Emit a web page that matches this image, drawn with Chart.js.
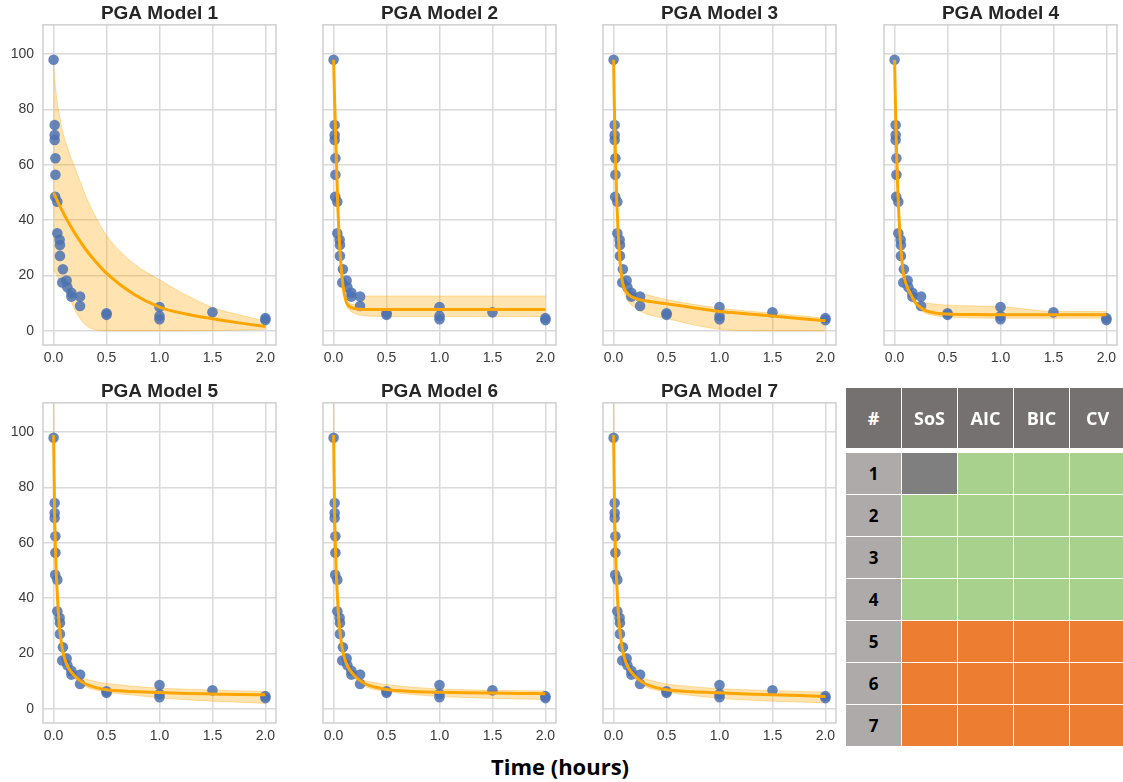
<!DOCTYPE html>
<html>
<head>
<meta charset="utf-8">
<script src="https://cdn.jsdelivr.net/npm/chart.js@4.4.0/dist/chart.umd.min.js"></script>
<style>
  html, body { margin: 0; padding: 0; background: #fff; overflow: hidden; }
  body { width: 1123px; height: 782px; position: relative; }
  canvas { position: absolute; }
  .cell { position: absolute; display: flex; align-items: center; justify-content: center;
          font-family: 'Open Sans', sans-serif; font-weight: 700; }
  #xlabel { position: absolute; left: 410px; width: 300px; top: 751px; line-height: 30px;
            text-align: center; font-family: 'Open Sans', sans-serif; font-weight: 700;
            font-size: 22px; color: #000; }
</style>
</head>
<body>
<div id="xlabel">Time (hours)</div>
<script>
// observed PGA values (same in every panel)
const obsTime = [0, 0.01, 0.01, 0.01, 0.017, 0.017, 0.015, 0.035, 0.035, 0.057, 0.06, 0.06, 0.088, 0.082,
                 0.123, 0.13, 0.168, 0.168, 0.25, 0.25, 0.5, 0.5, 1, 1, 1, 1.5, 2, 2];
const obsPga = [98, 74.4, 70.8, 69, 62.4, 56.4, 48.5, 46.7, 35.3, 32.9, 31, 27.1, 22.3, 17.5,
                18.2, 15.8, 13.8, 12.4, 12.4, 9, 6.4, 5.8, 8.6, 5.4, 4.2, 6.7, 4.6, 3.9];

const fitTime = [0, 0.005, 0.01, 0.02, 0.03, 0.04, 0.05, 0.06, 0.08, 0.1, 0.125, 0.15, 0.2, 0.25, 0.3,
                 0.4, 0.5, 0.75, 1, 1.25, 1.5, 1.75, 2];

const fit1 = [50, 49.6, 49.1, 48.3, 47.4, 46.6, 45.8, 45, 43.5, 42, 40.2, 38.5, 35.3, 32.4, 29.6, 24.9, 20.8, 13.4, 8.6, 6.1, 4.4, 2.9, 1.6];
const hi1  = [97, 94, 91, 87, 84, 81, 79, 77, 73, 70, 67, 64, 59, 54, 49, 41, 34.5, 24.5, 18.5, 13, 8.5, 5.8, 3.6];
const lo1  = [22, 21.7, 21.4, 20.8, 20.2, 19.5, 18.9, 18.3, 17.1, 16, 14.8, 12.5, 7.6, 4.5, 2.2, 0.3, 0, 0, 0, 0, 0.1, 0.3, 0.6];

const fit2 = [98, 90, 83, 70, 57, 45, 36, 29, 19.5, 13.6, 10, 8.8, 8.1, 7.8, 7.7, 7.7, 7.7, 7.7, 7.7, 7.7, 7.7, 7.7, 7.7];
const hi2  = [98, 91, 84.5, 72, 59, 47, 38, 30.5, 20.7, 14.6, 11, 10, 9.5, 10, 12.6, 12.6, 12.6, 12.6, 12.6, 12.6, 12.6, 12.6, 12.6];
const lo2  = [98, 89, 81.5, 68, 55, 43, 34, 27.5, 18.3, 12.6, 8.8, 7.5, 6.3, 5.7, 5.4, 5.3, 5.2, 5.2, 5.2, 5.2, 5.2, 5.2, 5.2];

const fit3 = [98, 86, 76, 60, 47, 38, 31, 25, 18.5, 15.5, 13.8, 12.8, 11.8, 11.2, 10.9, 10.3, 9.8, 8.4, 7, 6.2, 5.4, 4.5, 3.7];
const hi3  = [98, 87, 77, 61, 48, 39, 32, 26, 19.7, 17, 15.5, 14.5, 13.8, 13.6, 13.2, 12.2, 11.3, 9.6, 8.2, 7.2, 6.4, 5.5, 4.6];
const lo3  = [98, 85, 75, 59, 46, 37, 30, 24, 17.3, 14, 11.5, 10, 8.5, 7.2, 6.2, 5.2, 4.5, 2.2, 0.6, 0.1, 0, 0, 0];

const fit4 = [98, 88, 78, 63, 51, 42, 35, 29.5, 21.5, 18, 15.3, 13.4, 10, 8.3, 7.2, 6.4, 6.1, 5.9, 5.8, 5.8, 5.8, 5.8, 5.8];
const hi4  = [98, 88.6, 78.6, 63.6, 51.6, 42.6, 35.6, 30.1, 22.2, 18.8, 16.2, 14.5, 10.8, 10.2, 10, 9.6, 9.3, 9, 8.8, 7.8, 7, 7, 7];
const lo4  = [98, 87.4, 77.4, 62.4, 50.4, 41.4, 34.4, 28.9, 20.8, 17.2, 14.4, 12.3, 9.2, 7.4, 6.3, 5.4, 5, 4.7, 4.6, 4.6, 4.6, 4.6, 4.6];

const fit5 = [99, 84, 70, 55, 45, 38, 32, 28, 22.3, 18.8, 16, 14.2, 11.9, 10.2, 9, 7.7, 6.9, 6.3, 5.9, 5.6, 5.4, 5.2, 5.1];
const hi5  = [170, 88, 72.5, 57, 46.7, 39.5, 33.3, 29.2, 23.4, 19.9, 17.1, 15.3, 13, 11.5, 10.8, 9.8, 9.2, 8.2, 7.5, 7.1, 6.8, 6.5, 6.3];
const lo5  = [97, 81, 67.5, 53, 43.3, 36.5, 30.7, 26.8, 21.2, 17.7, 14.9, 13.1, 10.8, 9.4, 8, 6.8, 6, 5, 4, 3.3, 2.8, 2.4, 2];

const fit6 = [99, 84, 70, 55, 45, 38, 32, 28, 22.3, 18.8, 16, 14.2, 11.9, 10.2, 9, 7.8, 7, 6.3, 6, 5.8, 5.7, 5.6, 5.5];
const hi6  = [170, 88, 72.5, 57, 46.7, 39.5, 33.3, 29.2, 23.4, 19.9, 17.1, 15.2, 12.8, 11.2, 10.2, 9.4, 8.8, 7.8, 7.2, 6.9, 6.7, 6.6, 6.5];
const lo6  = [97, 81, 67.5, 53, 43.3, 36.5, 30.7, 26.8, 21.2, 17.7, 14.9, 13.2, 11, 9.4, 8.1, 6.9, 6.2, 5.2, 4.5, 4.1, 3.8, 3.6, 3.4];

const fit7 = [99, 84, 70, 55, 45, 38, 32, 28, 22.3, 18.8, 16, 14.2, 11.9, 10.2, 9, 7.7, 6.9, 6.2, 5.8, 5.4, 5.1, 4.8, 4.5];
const hi7  = [170, 88, 72.5, 57, 46.7, 39.5, 33.3, 29.2, 23.4, 19.9, 17.1, 15.3, 13, 11.5, 10.8, 9.8, 9, 8, 7.3, 6.9, 6.6, 6.3, 6.1];
const lo7  = [97, 81, 67.5, 53, 43.3, 36.5, 30.7, 26.8, 21.2, 17.7, 14.9, 13.1, 10.8, 9.4, 8, 6.8, 6, 4.8, 3.8, 3.2, 2.8, 2.5, 2.2];

const modelTitles = ['PGA Model 1', 'PGA Model 2', 'PGA Model 3', 'PGA Model 4', 'PGA Model 5', 'PGA Model 6', 'PGA Model 7'];
const xTicks = [0, 0.5, 1, 1.5, 2];
const yTicks = [0, 20, 40, 60, 80, 100];

// criteria table
const tableHeader = ['#', 'SoS', 'AIC', 'BIC', 'CV'];
const tableRows = [1, 2, 3, 4, 5, 6, 7];
const tableStatus = [
  ['na', 'ok', 'ok', 'ok'],
  ['ok', 'ok', 'ok', 'ok'],
  ['ok', 'ok', 'ok', 'ok'],
  ['ok', 'ok', 'ok', 'ok'],
  ['bad', 'bad', 'bad', 'bad'],
  ['bad', 'bad', 'bad', 'bad'],
  ['bad', 'bad', 'bad', 'bad']
];

const fits = [fit1, fit2, fit3, fit4, fit5, fit6, fit7];
const his = [hi1, hi2, hi3, hi4, hi5, hi6, hi7];
const los = [lo1, lo2, lo3, lo4, lo5, lo6, lo7];

// layout
const plotLeft = [43, 323, 603, 884, 43, 323, 603];
const rowTop = [0, 0, 0, 0, 378, 378, 378];
const plotW = 233, axisW = 43, padR = 14, canvasH = 373;

const toXY = (xs, ys) => xs.map((x, i) => ({ x: x, y: ys[i] }));

// light grey box round the plot area (seaborn whitegrid look)
const frame = {
  id: 'frame',
  afterDraw(chart) {
    const a = chart.chartArea, ctx = chart.ctx;
    ctx.save();
    ctx.strokeStyle = '#cfcfcf';
    ctx.lineWidth = 1.5;
    ctx.strokeRect(a.left, a.top, a.right - a.left, a.bottom - a.top);
    ctx.restore();
  }
};

const tickFont = { family: "'Liberation Sans', Arial, sans-serif", size: 14 };

for (let m = 0; m < 7; m++) {
  const cv = document.createElement('canvas');
  cv.width = axisW + plotW + padR;
  cv.height = canvasH;
  cv.style.left = (plotLeft[m] - axisW) + 'px';
  cv.style.top = rowTop[m] + 'px';
  document.body.appendChild(cv);
  const showY = (m === 0 || m === 4);

  new Chart(cv, {
    type: 'scatter',
    data: {
      datasets: [
        {
          type: 'line',
          data: toXY(fitTime, fits[m]),
          borderColor: '#FFA500',
          borderWidth: 3,
          pointRadius: 0,
          cubicInterpolationMode: 'monotone',
          clip: 0,
          order: 0
        },
        {
          data: toXY(obsTime, obsPga),
          backgroundColor: 'rgba(76,114,176,0.85)',
          borderWidth: 0,
          pointRadius: 5.3,
          order: 1
        },
        {
          type: 'line',
          data: toXY(fitTime, his[m]),
          borderColor: 'rgba(255,165,0,0.35)',
          backgroundColor: 'rgba(255,165,0,0.3)',
          borderWidth: 1,
          pointRadius: 0,
          cubicInterpolationMode: 'monotone',
          fill: '+1',
          clip: 0,
          order: 2
        },
        {
          type: 'line',
          data: toXY(fitTime, los[m]),
          borderColor: 'rgba(255,165,0,0.35)',
          borderWidth: 1,
          pointRadius: 0,
          cubicInterpolationMode: 'monotone',
          fill: false,
          clip: 0,
          order: 3
        }
      ]
    },
    options: {
      responsive: false,
      animation: false,
      layout: { padding: { left: 0, right: padR, top: 0, bottom: 0 } },
      plugins: {
        legend: { display: false },
        tooltip: { enabled: false },
        title: {
          display: true,
          text: modelTitles[m],
          fullSize: false,
          color: '#262626',
          font: { family: "'Liberation Sans', Arial, sans-serif", size: 19, weight: 'bold', lineHeight: 1.15 },
          padding: { top: 3, bottom: 0 }
        }
      },
      scales: {
        x: {
          type: 'linear',
          min: -0.1,
          max: 2.1,
          afterBuildTicks: s => { s.ticks = xTicks.map(v => ({ value: v })); },
          afterFit: s => { s.height = 28; },
          grid: { color: '#dadada', lineWidth: 1.5, drawTicks: false },
          border: { display: false },
          ticks: { color: '#3a3a3a', font: tickFont, padding: 5, callback: v => v.toFixed(1) }
        },
        y: {
          min: -5.1,
          max: 110.6,
          afterBuildTicks: s => { s.ticks = yTicks.map(v => ({ value: v })); },
          afterFit: s => { s.width = axisW; },
          grid: { color: '#dadada', lineWidth: 1.5, drawTicks: false },
          border: { display: false },
          ticks: { display: showY, color: '#3a3a3a', font: tickFont, padding: 9, callback: v => v }
        }
      }
    },
    plugins: [frame]
  });
}

// table of criteria
const cellFill = { na: '#7F7F7F', ok: '#A9D18E', bad: '#ED7D31' };
const colLeft = [846, 902, 958, 1014, 1070];
const colW = 55;

function addCell(left, top, w, h, bg, txt, color, size) {
  const d = document.createElement('div');
  d.className = 'cell';
  d.style.left = left + 'px';
  d.style.top = top + 'px';
  d.style.width = w + 'px';
  d.style.height = h + 'px';
  d.style.background = bg;
  d.style.color = color;
  d.style.fontSize = size + 'px';
  d.textContent = txt;
  document.body.appendChild(d);
}

tableHeader.forEach((h, c) => addCell(colLeft[c], 388, colW, 60, '#767171', h, '#fff', 18));
tableRows.forEach((r, i) => {
  const top = 452.7 + i * 42.05;
  addCell(colLeft[0], top, colW, 41, '#AEAAAA', String(r), '#000', 17);
  tableStatus[i].forEach((s, c) => addCell(colLeft[c + 1], top, colW, 41, cellFill[s], '', '#000', 17));
});
</script>
</body>
